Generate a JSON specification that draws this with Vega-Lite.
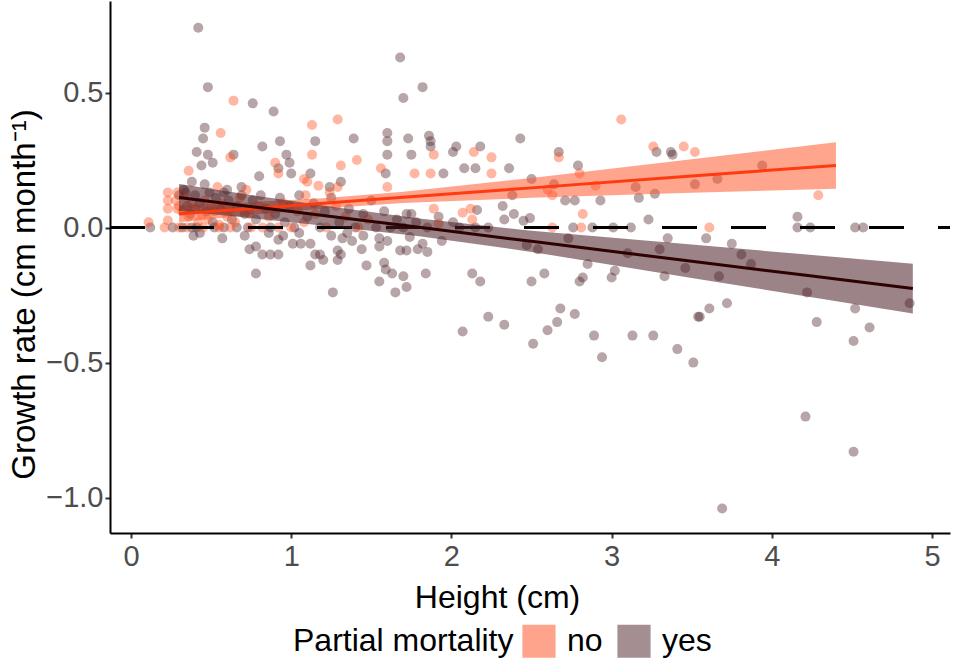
{
  "$schema": "https://vega.github.io/schema/vega-lite/v6.json",
  "description": "Growth rate vs height, split by partial mortality, with linear fits.",
  "width": 840,
  "height": 532,
  "autosize": {"type": "none"},
  "padding": {"left": 110, "top": 1, "right": 5, "bottom": 129},
  "config": {
    "font": "Liberation Sans",
    "view": {"stroke": null},
    "axis": {
      "grid": false,
      "domainColor": "#000000",
      "domainWidth": 2,
      "tickColor": "#333333",
      "tickWidth": 2,
      "tickSize": 5,
      "labelColor": "#4d4d4d",
      "labelFontSize": 29,
      "labelPadding": 2,
      "titleColor": "#000000",
      "titleFontSize": 32,
      "titleFontWeight": "normal"
    }
  },
  "datasets": {
    "pts": [
      {"height": 0.42, "growth": 0.74, "mortality": "yes"},
      {"height": 0.48, "growth": 0.52, "mortality": "yes"},
      {"height": 0.76, "growth": 0.46, "mortality": "yes"},
      {"height": 0.89, "growth": 0.43, "mortality": "yes"},
      {"height": 1.68, "growth": 0.63, "mortality": "yes"},
      {"height": 1.70, "growth": 0.48, "mortality": "yes"},
      {"height": 1.82, "growth": 0.52, "mortality": "yes"},
      {"height": 0.46, "growth": 0.37, "mortality": "yes"},
      {"height": 0.45, "growth": 0.33, "mortality": "yes"},
      {"height": 0.41, "growth": 0.28, "mortality": "yes"},
      {"height": 0.48, "growth": 0.27, "mortality": "yes"},
      {"height": 0.44, "growth": 0.23, "mortality": "yes"},
      {"height": 0.51, "growth": 0.24, "mortality": "yes"},
      {"height": 0.64, "growth": 0.27, "mortality": "yes"},
      {"height": 0.82, "growth": 0.30, "mortality": "yes"},
      {"height": 0.93, "growth": 0.32, "mortality": "yes"},
      {"height": 0.97, "growth": 0.27, "mortality": "yes"},
      {"height": 0.99, "growth": 0.24, "mortality": "yes"},
      {"height": 1.00, "growth": 0.20, "mortality": "yes"},
      {"height": 0.92, "growth": 0.22, "mortality": "yes"},
      {"height": 0.80, "growth": 0.19, "mortality": "yes"},
      {"height": 1.15, "growth": 0.32, "mortality": "yes"},
      {"height": 1.12, "growth": 0.20, "mortality": "yes"},
      {"height": 1.24, "growth": 0.15, "mortality": "yes"},
      {"height": 1.31, "growth": 0.17, "mortality": "yes"},
      {"height": 1.39, "growth": 0.33, "mortality": "yes"},
      {"height": 1.60, "growth": 0.35, "mortality": "yes"},
      {"height": 1.60, "growth": 0.32, "mortality": "yes"},
      {"height": 1.60, "growth": 0.27, "mortality": "yes"},
      {"height": 1.73, "growth": 0.33, "mortality": "yes"},
      {"height": 1.75, "growth": 0.27, "mortality": "yes"},
      {"height": 1.59, "growth": 0.20, "mortality": "yes"},
      {"height": 0.38, "growth": 0.17, "mortality": "yes"},
      {"height": 0.46, "growth": 0.16, "mortality": "yes"},
      {"height": 0.60, "growth": 0.14, "mortality": "yes"},
      {"height": 0.69, "growth": 0.15, "mortality": "yes"},
      {"height": 0.34, "growth": 0.13, "mortality": "yes"},
      {"height": 0.12, "growth": 0.0, "mortality": "yes"},
      {"height": 0.26, "growth": 0.0, "mortality": "yes"},
      {"height": 0.39, "growth": -0.03, "mortality": "yes"},
      {"height": 0.43, "growth": -0.02, "mortality": "yes"},
      {"height": 0.57, "growth": -0.04, "mortality": "yes"},
      {"height": 0.71, "growth": -0.03, "mortality": "yes"},
      {"height": 0.74, "growth": -0.08, "mortality": "yes"},
      {"height": 0.78, "growth": -0.07, "mortality": "yes"},
      {"height": 0.82, "growth": -0.10, "mortality": "yes"},
      {"height": 0.87, "growth": -0.10, "mortality": "yes"},
      {"height": 0.92, "growth": -0.10, "mortality": "yes"},
      {"height": 0.78, "growth": -0.17, "mortality": "yes"},
      {"height": 0.92, "growth": -0.045, "mortality": "yes"},
      {"height": 1.01, "growth": -0.06, "mortality": "yes"},
      {"height": 1.06, "growth": -0.06, "mortality": "yes"},
      {"height": 1.12, "growth": -0.06, "mortality": "yes"},
      {"height": 1.12, "growth": -0.14, "mortality": "yes"},
      {"height": 1.15, "growth": -0.10, "mortality": "yes"},
      {"height": 1.18, "growth": -0.10, "mortality": "yes"},
      {"height": 1.20, "growth": -0.12, "mortality": "yes"},
      {"height": 1.29, "growth": -0.085, "mortality": "yes"},
      {"height": 1.31, "growth": -0.10, "mortality": "yes"},
      {"height": 1.29, "growth": -0.12, "mortality": "yes"},
      {"height": 1.26, "growth": -0.24, "mortality": "yes"},
      {"height": 1.32, "growth": -0.04, "mortality": "yes"},
      {"height": 1.38, "growth": -0.05, "mortality": "yes"},
      {"height": 1.44, "growth": -0.08, "mortality": "yes"},
      {"height": 1.47, "growth": -0.14, "mortality": "yes"},
      {"height": 1.55, "growth": -0.04, "mortality": "yes"},
      {"height": 1.55, "growth": -0.07, "mortality": "yes"},
      {"height": 1.58, "growth": -0.13, "mortality": "yes"},
      {"height": 1.59, "growth": -0.155, "mortality": "yes"},
      {"height": 1.63, "growth": -0.17, "mortality": "yes"},
      {"height": 1.55, "growth": -0.20, "mortality": "yes"},
      {"height": 1.65, "growth": -0.24, "mortality": "yes"},
      {"height": 1.70, "growth": -0.18, "mortality": "yes"},
      {"height": 1.72, "growth": -0.22, "mortality": "yes"},
      {"height": 1.68, "growth": -0.085, "mortality": "yes"},
      {"height": 1.72, "growth": -0.085, "mortality": "yes"},
      {"height": 1.72, "growth": 0.05, "mortality": "yes"},
      {"height": 1.75, "growth": 0.05, "mortality": "yes"},
      {"height": 1.79, "growth": -0.08, "mortality": "yes"},
      {"height": 1.60, "growth": -0.05, "mortality": "yes"},
      {"height": 1.74, "growth": -0.035, "mortality": "yes"},
      {"height": 1.82, "growth": -0.06, "mortality": "yes"},
      {"height": 1.85, "growth": -0.09, "mortality": "yes"},
      {"height": 1.84, "growth": -0.17, "mortality": "yes"},
      {"height": 1.94, "growth": -0.05, "mortality": "yes"},
      {"height": 1.86, "growth": 0.34, "mortality": "yes"},
      {"height": 1.87, "growth": 0.32, "mortality": "yes"},
      {"height": 1.87, "growth": 0.30, "mortality": "yes"},
      {"height": 2.01, "growth": 0.28, "mortality": "yes"},
      {"height": 2.03, "growth": 0.30, "mortality": "yes"},
      {"height": 2.18, "growth": 0.30, "mortality": "yes"},
      {"height": 2.43, "growth": 0.33, "mortality": "yes"},
      {"height": 2.67, "growth": 0.28, "mortality": "yes"},
      {"height": 3.28, "growth": 0.28, "mortality": "yes"},
      {"height": 3.37, "growth": 0.28, "mortality": "yes"},
      {"height": 3.38, "growth": 0.27, "mortality": "yes"},
      {"height": 1.95, "growth": 0.20, "mortality": "yes"},
      {"height": 2.08, "growth": 0.22, "mortality": "yes"},
      {"height": 2.15, "growth": 0.22, "mortality": "yes"},
      {"height": 2.36, "growth": 0.22, "mortality": "yes"},
      {"height": 2.16, "growth": 0.065, "mortality": "yes"},
      {"height": 2.01, "growth": 0.02, "mortality": "yes"},
      {"height": 2.32, "growth": 0.08, "mortality": "yes"},
      {"height": 2.33, "growth": 0.03, "mortality": "yes"},
      {"height": 2.39, "growth": 0.05, "mortality": "yes"},
      {"height": 2.50, "growth": 0.18, "mortality": "yes"},
      {"height": 2.38, "growth": 0.12, "mortality": "yes"},
      {"height": 2.64, "growth": 0.16, "mortality": "yes"},
      {"height": 2.71, "growth": 0.10, "mortality": "yes"},
      {"height": 2.77, "growth": 0.10, "mortality": "yes"},
      {"height": 2.93, "growth": 0.10, "mortality": "yes"},
      {"height": 2.79, "growth": 0.23, "mortality": "yes"},
      {"height": 3.15, "growth": 0.15, "mortality": "yes"},
      {"height": 3.17, "growth": 0.11, "mortality": "yes"},
      {"height": 3.27, "growth": 0.125, "mortality": "yes"},
      {"height": 3.52, "growth": 0.16, "mortality": "yes"},
      {"height": 2.45, "growth": 0.025, "mortality": "yes"},
      {"height": 2.49, "growth": 0.035, "mortality": "yes"},
      {"height": 2.76, "growth": 0.0, "mortality": "yes"},
      {"height": 2.88, "growth": 0.0, "mortality": "yes"},
      {"height": 3.01, "growth": 0.0, "mortality": "yes"},
      {"height": 3.12, "growth": 0.0, "mortality": "yes"},
      {"height": 2.23, "growth": 0.0, "mortality": "yes"},
      {"height": 3.23, "growth": 0.03, "mortality": "yes"},
      {"height": 3.35, "growth": -0.04, "mortality": "yes"},
      {"height": 2.47, "growth": -0.065, "mortality": "yes"},
      {"height": 2.54, "growth": -0.08, "mortality": "yes"},
      {"height": 2.73, "growth": -0.04, "mortality": "yes"},
      {"height": 2.85, "growth": -0.135, "mortality": "yes"},
      {"height": 3.10, "growth": -0.095, "mortality": "yes"},
      {"height": 3.30, "growth": -0.08, "mortality": "yes"},
      {"height": 3.46, "growth": -0.15, "mortality": "yes"},
      {"height": 2.13, "growth": -0.17, "mortality": "yes"},
      {"height": 2.18, "growth": -0.20, "mortality": "yes"},
      {"height": 2.50, "growth": -0.20, "mortality": "yes"},
      {"height": 2.58, "growth": -0.17, "mortality": "yes"},
      {"height": 2.80, "growth": -0.20, "mortality": "yes"},
      {"height": 2.82, "growth": -0.185, "mortality": "yes"},
      {"height": 3.00, "growth": -0.185, "mortality": "yes"},
      {"height": 3.02, "growth": -0.16, "mortality": "yes"},
      {"height": 2.23, "growth": -0.33, "mortality": "yes"},
      {"height": 2.33, "growth": -0.36, "mortality": "yes"},
      {"height": 2.07, "growth": -0.385, "mortality": "yes"},
      {"height": 2.51, "growth": -0.43, "mortality": "yes"},
      {"height": 2.60, "growth": -0.38, "mortality": "yes"},
      {"height": 2.66, "growth": -0.35, "mortality": "yes"},
      {"height": 2.68, "growth": -0.30, "mortality": "yes"},
      {"height": 2.77, "growth": -0.32, "mortality": "yes"},
      {"height": 2.89, "growth": -0.40, "mortality": "yes"},
      {"height": 2.94, "growth": -0.48, "mortality": "yes"},
      {"height": 3.13, "growth": -0.40, "mortality": "yes"},
      {"height": 3.26, "growth": -0.40, "mortality": "yes"},
      {"height": 3.41, "growth": -0.45, "mortality": "yes"},
      {"height": 3.51, "growth": -0.50, "mortality": "yes"},
      {"height": 3.54, "growth": -0.33, "mortality": "yes"},
      {"height": 3.33, "growth": -0.18, "mortality": "yes"},
      {"height": 3.94, "growth": 0.23, "mortality": "yes"},
      {"height": 3.66, "growth": 0.18, "mortality": "yes"},
      {"height": 4.16, "growth": 0.04, "mortality": "yes"},
      {"height": 4.16, "growth": 0.0, "mortality": "yes"},
      {"height": 4.24, "growth": 0.0, "mortality": "yes"},
      {"height": 4.52, "growth": 0.0, "mortality": "yes"},
      {"height": 4.57, "growth": 0.0, "mortality": "yes"},
      {"height": 3.59, "growth": -0.04, "mortality": "yes"},
      {"height": 3.75, "growth": -0.06, "mortality": "yes"},
      {"height": 3.67, "growth": -0.18, "mortality": "yes"},
      {"height": 3.81, "growth": -0.10, "mortality": "yes"},
      {"height": 3.87, "growth": -0.135, "mortality": "yes"},
      {"height": 4.22, "growth": -0.24, "mortality": "yes"},
      {"height": 4.28, "growth": -0.35, "mortality": "yes"},
      {"height": 4.86, "growth": -0.28, "mortality": "yes"},
      {"height": 4.52, "growth": -0.30, "mortality": "yes"},
      {"height": 4.61, "growth": -0.37, "mortality": "yes"},
      {"height": 4.51, "growth": -0.42, "mortality": "yes"},
      {"height": 3.55, "growth": -0.33, "mortality": "yes"},
      {"height": 3.61, "growth": -0.30, "mortality": "yes"},
      {"height": 3.72, "growth": -0.28, "mortality": "yes"},
      {"height": 4.21, "growth": -0.70, "mortality": "yes"},
      {"height": 4.51, "growth": -0.83, "mortality": "yes"},
      {"height": 3.69, "growth": -1.04, "mortality": "yes"},
      {"height": 0.30, "growth": 0.12, "mortality": "yes"},
      {"height": 0.33, "growth": 0.14, "mortality": "yes"},
      {"height": 0.35, "growth": 0.08, "mortality": "yes"},
      {"height": 0.37, "growth": 0.05, "mortality": "yes"},
      {"height": 0.40, "growth": 0.12, "mortality": "yes"},
      {"height": 0.41, "growth": 0.0, "mortality": "yes"},
      {"height": 0.43, "growth": 0.09, "mortality": "yes"},
      {"height": 0.47, "growth": 0.06, "mortality": "yes"},
      {"height": 0.49, "growth": 0.13, "mortality": "yes"},
      {"height": 0.51, "growth": 0.02, "mortality": "yes"},
      {"height": 0.53, "growth": 0.11, "mortality": "yes"},
      {"height": 0.56, "growth": 0.07, "mortality": "yes"},
      {"height": 0.58, "growth": 0.13, "mortality": "yes"},
      {"height": 0.61, "growth": 0.10, "mortality": "yes"},
      {"height": 0.63, "growth": 0.03, "mortality": "yes"},
      {"height": 0.66, "growth": 0.08, "mortality": "yes"},
      {"height": 0.69, "growth": 0.12, "mortality": "yes"},
      {"height": 0.71, "growth": 0.05, "mortality": "yes"},
      {"height": 0.73, "growth": 0.0, "mortality": "yes"},
      {"height": 0.76, "growth": 0.10, "mortality": "yes"},
      {"height": 0.78, "growth": 0.03, "mortality": "yes"},
      {"height": 0.81, "growth": 0.12, "mortality": "yes"},
      {"height": 0.84, "growth": 0.07, "mortality": "yes"},
      {"height": 0.87, "growth": 0.0, "mortality": "yes"},
      {"height": 0.90, "growth": 0.05, "mortality": "yes"},
      {"height": 0.93, "growth": 0.11, "mortality": "yes"},
      {"height": 0.96, "growth": 0.02, "mortality": "yes"},
      {"height": 0.99, "growth": 0.08, "mortality": "yes"},
      {"height": 1.02, "growth": 0.0, "mortality": "yes"},
      {"height": 1.05, "growth": 0.12, "mortality": "yes"},
      {"height": 1.10, "growth": 0.04, "mortality": "yes"},
      {"height": 1.14, "growth": 0.09, "mortality": "yes"},
      {"height": 1.18, "growth": 0.0, "mortality": "yes"},
      {"height": 1.21, "growth": 0.06, "mortality": "yes"},
      {"height": 1.25, "growth": 0.11, "mortality": "yes"},
      {"height": 1.30, "growth": 0.02, "mortality": "yes"},
      {"height": 1.36, "growth": 0.07, "mortality": "yes"},
      {"height": 1.40, "growth": 0.0, "mortality": "yes"},
      {"height": 1.45, "growth": 0.05, "mortality": "yes"},
      {"height": 1.50, "growth": 0.10, "mortality": "yes"},
      {"height": 1.53, "growth": 0.0, "mortality": "yes"},
      {"height": 1.58, "growth": 0.06, "mortality": "yes"},
      {"height": 1.62, "growth": 0.0, "mortality": "yes"},
      {"height": 1.66, "growth": 0.03, "mortality": "yes"},
      {"height": 1.70, "growth": 0.0, "mortality": "yes"},
      {"height": 1.78, "growth": 0.02, "mortality": "yes"},
      {"height": 1.85, "growth": 0.0, "mortality": "yes"},
      {"height": 1.92, "growth": 0.04, "mortality": "yes"},
      {"height": 2.05, "growth": 0.0, "mortality": "yes"},
      {"height": 2.15, "growth": 0.0, "mortality": "yes"},
      {"height": 0.32, "growth": 0.0, "mortality": "yes"},
      {"height": 0.38, "growth": 0.0, "mortality": "yes"},
      {"height": 0.52, "growth": 0.0, "mortality": "yes"},
      {"height": 0.58, "growth": 0.0, "mortality": "yes"},
      {"height": 0.66, "growth": 0.0, "mortality": "yes"},
      {"height": 0.86, "growth": -0.02, "mortality": "yes"},
      {"height": 0.95, "growth": -0.03, "mortality": "yes"},
      {"height": 1.05, "growth": -0.02, "mortality": "yes"},
      {"height": 1.25, "growth": -0.03, "mortality": "yes"},
      {"height": 1.35, "growth": -0.02, "mortality": "yes"},
      {"height": 1.45, "growth": -0.03, "mortality": "yes"},
      {"height": 0.64, "growth": 0.47, "mortality": "no"},
      {"height": 1.29, "growth": 0.40, "mortality": "no"},
      {"height": 0.56, "growth": 0.35, "mortality": "no"},
      {"height": 0.62, "growth": 0.26, "mortality": "no"},
      {"height": 0.90, "growth": 0.24, "mortality": "no"},
      {"height": 0.92, "growth": 0.20, "mortality": "no"},
      {"height": 0.36, "growth": 0.21, "mortality": "no"},
      {"height": 1.13, "growth": 0.38, "mortality": "no"},
      {"height": 1.13, "growth": 0.27, "mortality": "no"},
      {"height": 1.08, "growth": 0.18, "mortality": "no"},
      {"height": 1.10, "growth": 0.17, "mortality": "no"},
      {"height": 1.17, "growth": 0.155, "mortality": "no"},
      {"height": 1.31, "growth": 0.23, "mortality": "no"},
      {"height": 1.41, "growth": 0.25, "mortality": "no"},
      {"height": 1.29, "growth": 0.15, "mortality": "no"},
      {"height": 1.56, "growth": 0.22, "mortality": "no"},
      {"height": 1.77, "growth": 0.20, "mortality": "no"},
      {"height": 1.60, "growth": 0.15, "mortality": "no"},
      {"height": 0.54, "growth": 0.15, "mortality": "no"},
      {"height": 0.72, "growth": 0.14, "mortality": "no"},
      {"height": 0.23, "growth": 0.13, "mortality": "no"},
      {"height": 0.29, "growth": 0.13, "mortality": "no"},
      {"height": 0.11, "growth": 0.02, "mortality": "no"},
      {"height": 0.23, "growth": 0.10, "mortality": "no"},
      {"height": 0.23, "growth": 0.07, "mortality": "no"},
      {"height": 0.23, "growth": 0.026, "mortality": "no"},
      {"height": 0.21, "growth": 0.0, "mortality": "no"},
      {"height": 0.29, "growth": 0.07, "mortality": "no"},
      {"height": 1.09, "growth": 0.12, "mortality": "no"},
      {"height": 1.24, "growth": 0.13, "mortality": "no"},
      {"height": 1.89, "growth": 0.27, "mortality": "no"},
      {"height": 2.14, "growth": 0.28, "mortality": "no"},
      {"height": 2.25, "growth": 0.26, "mortality": "no"},
      {"height": 2.67, "growth": 0.26, "mortality": "no"},
      {"height": 3.06, "growth": 0.40, "mortality": "no"},
      {"height": 3.26, "growth": 0.30, "mortality": "no"},
      {"height": 3.45, "growth": 0.30, "mortality": "no"},
      {"height": 3.52, "growth": 0.28, "mortality": "no"},
      {"height": 1.87, "growth": 0.20, "mortality": "no"},
      {"height": 2.25, "growth": 0.20, "mortality": "no"},
      {"height": 2.07, "growth": 0.055, "mortality": "no"},
      {"height": 2.12, "growth": 0.07, "mortality": "no"},
      {"height": 1.89, "growth": 0.07, "mortality": "no"},
      {"height": 2.13, "growth": 0.03, "mortality": "no"},
      {"height": 1.92, "growth": 0.015, "mortality": "no"},
      {"height": 2.60, "growth": 0.14, "mortality": "no"},
      {"height": 2.63, "growth": 0.12, "mortality": "no"},
      {"height": 2.90, "growth": 0.155, "mortality": "no"},
      {"height": 2.80, "growth": 0.20, "mortality": "no"},
      {"height": 2.82, "growth": 0.05, "mortality": "no"},
      {"height": 2.81, "growth": 0.0, "mortality": "no"},
      {"height": 2.63, "growth": 0.0, "mortality": "no"},
      {"height": 4.29, "growth": 0.12, "mortality": "no"},
      {"height": 3.61, "growth": 0.0, "mortality": "no"},
      {"height": 0.28, "growth": 0.10, "mortality": "no"},
      {"height": 0.30, "growth": 0.08, "mortality": "no"},
      {"height": 0.32, "growth": 0.06, "mortality": "no"},
      {"height": 0.34, "growth": 0.11, "mortality": "no"},
      {"height": 0.36, "growth": 0.04, "mortality": "no"},
      {"height": 0.38, "growth": 0.09, "mortality": "no"},
      {"height": 0.40, "growth": 0.07, "mortality": "no"},
      {"height": 0.42, "growth": 0.02, "mortality": "no"},
      {"height": 0.44, "growth": 0.05, "mortality": "no"},
      {"height": 0.46, "growth": 0.10, "mortality": "no"},
      {"height": 0.48, "growth": 0.03, "mortality": "no"},
      {"height": 0.50, "growth": 0.08, "mortality": "no"},
      {"height": 0.52, "growth": 0.06, "mortality": "no"},
      {"height": 0.55, "growth": 0.01, "mortality": "no"},
      {"height": 0.57, "growth": 0.09, "mortality": "no"},
      {"height": 0.60, "growth": 0.04, "mortality": "no"},
      {"height": 0.62, "growth": 0.07, "mortality": "no"},
      {"height": 0.65, "growth": 0.02, "mortality": "no"},
      {"height": 0.30, "growth": 0.0, "mortality": "no"},
      {"height": 0.35, "growth": 0.0, "mortality": "no"},
      {"height": 0.45, "growth": 0.0, "mortality": "no"},
      {"height": 0.55, "growth": 0.0, "mortality": "no"},
      {"height": 0.62, "growth": 0.0, "mortality": "no"},
      {"height": 0.75, "growth": 0.0, "mortality": "no"},
      {"height": 0.82, "growth": 0.0, "mortality": "no"},
      {"height": 0.92, "growth": 0.0, "mortality": "no"},
      {"height": 1.00, "growth": 0.0, "mortality": "no"},
      {"height": 1.08, "growth": 0.02, "mortality": "no"},
      {"height": 0.68, "growth": 0.11, "mortality": "no"},
      {"height": 0.74, "growth": 0.05, "mortality": "no"},
      {"height": 0.80, "growth": 0.08, "mortality": "no"},
      {"height": 0.86, "growth": 0.04, "mortality": "no"},
      {"height": 0.95, "growth": 0.09, "mortality": "no"},
      {"height": 1.04, "growth": 0.06, "mortality": "no"},
      {"height": 1.15, "growth": 0.05, "mortality": "no"},
      {"height": 1.22, "growth": 0.0, "mortality": "no"},
      {"height": 1.28, "growth": 0.08, "mortality": "no"},
      {"height": 1.34, "growth": 0.04, "mortality": "no"},
      {"height": 1.42, "growth": 0.0, "mortality": "no"},
      {"height": 1.48, "growth": 0.03, "mortality": "no"}
    ],
    "fit": [
      {"height": 0.3, "fit": 0.051, "lower": 0.020, "upper": 0.082, "mortality": "no"},
      {"height": 0.7, "fit": 0.068, "lower": 0.044, "upper": 0.092, "mortality": "no"},
      {"height": 1.2, "fit": 0.090, "lower": 0.071, "upper": 0.109, "mortality": "no"},
      {"height": 1.7, "fit": 0.112, "lower": 0.091, "upper": 0.133, "mortality": "no"},
      {"height": 2.5, "fit": 0.147, "lower": 0.110, "upper": 0.184, "mortality": "no"},
      {"height": 3.5, "fit": 0.191, "lower": 0.129, "upper": 0.253, "mortality": "no"},
      {"height": 4.4, "fit": 0.230, "lower": 0.144, "upper": 0.316, "mortality": "no"},
      {"height": 0.3, "fit": 0.111, "lower": 0.061, "upper": 0.161, "mortality": "yes"},
      {"height": 0.8, "fit": 0.074, "lower": 0.032, "upper": 0.116, "mortality": "yes"},
      {"height": 1.3, "fit": 0.037, "lower": 0.001, "upper": 0.073, "mortality": "yes"},
      {"height": 1.8, "fit": 0.001, "lower": -0.032, "upper": 0.034, "mortality": "yes"},
      {"height": 2.5, "fit": -0.051, "lower": -0.090, "upper": -0.012, "mortality": "yes"},
      {"height": 3.5, "fit": -0.125, "lower": -0.187, "upper": -0.063, "mortality": "yes"},
      {"height": 4.2, "fit": -0.176, "lower": -0.253, "upper": -0.099, "mortality": "yes"},
      {"height": 4.88, "fit": -0.226, "lower": -0.318, "upper": -0.134, "mortality": "yes"}
    ],
    "zero": [
      {"from": -0.131, "to": 5.112, "level": 0}
    ]
  },
  "encoding": {
    "x": {
      "type": "quantitative",
      "scale": {"domain": [-0.131, 5.112], "nice": false, "zero": false},
      "axis": {"values": [0, 1, 2, 3, 4, 5], "format": "d", "title": "Height (cm)", "titlePadding": 11, "titleX": 387, "labelPadding": 4}
    }
  },
  "layer": [
    {
      "data": {"name": "pts"},
      "mark": {"type": "point", "filled": true, "size": 100, "opacity": 0.4},
      "encoding": {
        "x": {"field": "height", "type": "quantitative"},
        "y": {
          "field": "growth",
          "type": "quantitative",
          "scale": {"domain": [-1.131, 0.839], "nice": false, "zero": false},
          "axis": {"values": [-1, -0.5, 0, 0.5], "format": ".1f", "title": "Growth rate (cm month⁻¹)", "titlePadding": 4, "titleFontSize": 33, "titleY": 293}
        },
        "color": {
          "field": "mortality",
          "type": "nominal",
          "scale": {"domain": ["no", "yes"], "range": ["#ff4a1a", "#4a1e24"]},
          "legend": {
            "title": "Partial mortality",
            "orient": "none",
            "legendX": 183,
            "legendY": 623,
            "direction": "horizontal",
            "titleOrient": "left",
            "titleFontSize": 32,
            "titleFontWeight": "normal",
            "titleColor": "#000000",
            "titlePadding": 8,
            "titleLimit": 400,
            "labelFontSize": 32,
            "labelColor": "#000000",
            "symbolType": "square",
            "symbolSize": 1100,
            "symbolOpacity": 0.5,
            "symbolStrokeWidth": 0,
            "columnPadding": 14,
            "labelOffset": 11
          }
        }
      }
    },
    {
      "data": {"name": "zero"},
      "mark": {"type": "rule", "color": "#000000", "strokeWidth": 3, "strokeDash": [35, 34]},
      "encoding": {
        "x": {"field": "from", "type": "quantitative"},
        "x2": {"field": "to"},
        "y": {"field": "level", "type": "quantitative"}
      }
    },
    {
      "data": {"name": "fit"},
      "mark": {"type": "area", "opacity": 0.55},
      "encoding": {
        "x": {"field": "height", "type": "quantitative"},
        "y": {"field": "lower", "type": "quantitative"},
        "y2": {"field": "upper"},
        "fill": {
          "field": "mortality",
          "type": "nominal",
          "scale": {"domain": ["no", "yes"], "range": ["#ff5a30", "#4a1e24"]},
          "legend": null
        }
      }
    },
    {
      "data": {"name": "fit"},
      "mark": {"type": "line", "strokeWidth": 3},
      "encoding": {
        "x": {"field": "height", "type": "quantitative"},
        "y": {"field": "fit", "type": "quantitative"},
        "stroke": {
          "field": "mortality",
          "type": "nominal",
          "scale": {"domain": ["no", "yes"], "range": ["#ff3a10", "#2e0202"]},
          "legend": null
        }
      }
    }
  ]
}
